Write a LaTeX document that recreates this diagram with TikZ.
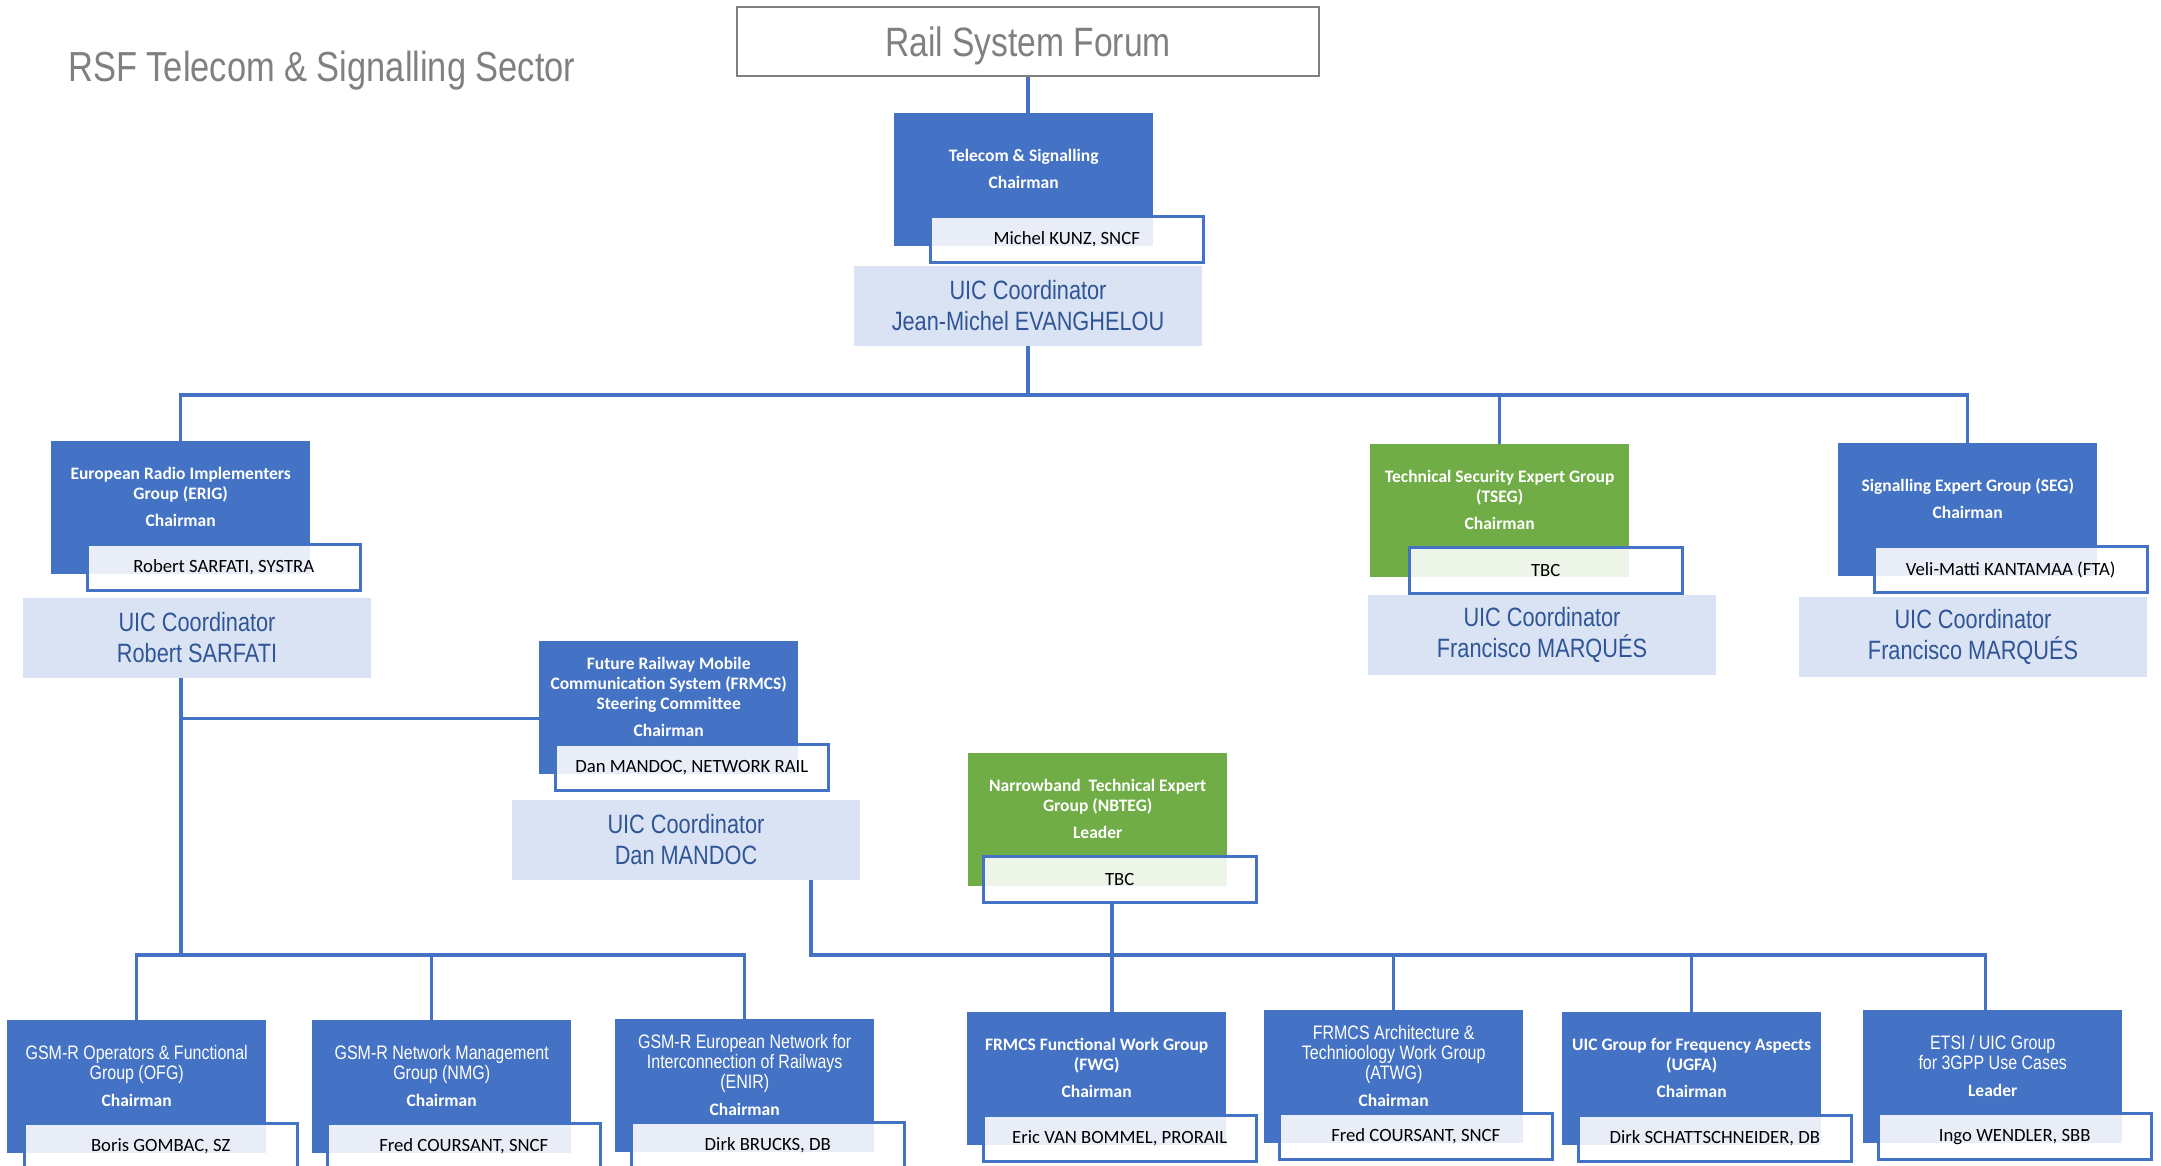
\documentclass[tikz,border=0pt]{standalone}
\usepackage{fontspec}
\setmainfont{Carlito}
\newfontfamily\narrow[FakeStretch=0.82]{Liberation Sans}
\definecolor{tsblue}{HTML}{4472C4}
\definecolor{tsgreen}{HTML}{70AD47}
\definecolor{uicfill}{HTML}{DAE3F3}
\definecolor{uictext}{HTML}{2F5597}
\definecolor{rsfgray}{HTML}{808080}
\newcommand\nrw[1]{{\mdseries\narrow\fontsize{19.5}{20}\selectfont #1}}

\begin{document}
\begin{tikzpicture}[
    x=1pt, y=-1pt,
    grp/.style={fill=#1, minimum width=259, minimum height=133, inner sep=0pt, anchor=north west},
    head/.style={text=white, align=center, font=\bfseries\fontsize{17.5}{20}\selectfont},
    who/.style={
        draw=tsblue,
        line width=2.5pt,
        fill=white,
        fill opacity=0.88,
        text opacity=1,
        minimum width=273,
        minimum height=46,
        inner sep=0pt,
        anchor=north west,
        font=\fontsize{18.7}{20}\selectfont
    },
    uic/.style={fill=uicfill, text=uictext, align=center, minimum width=348, minimum height=80,
        inner sep=0pt, font=\narrow\fontsize{26.5}{31}\selectfont},
    link/.style={draw=tsblue, line width=3.5pt}
]
  \useasboundingbox (0,0) rectangle (2161,1166);
  \clip (0,0) rectangle (2161,1166);

  \node[anchor=base west, inner sep=0pt, text=rsfgray, font=\narrow\fontsize{42}{42}\selectfont]
    (sector) at (68,82) {RSF Telecom \& Signalling Sector};
  \node[draw=rsfgray, line width=2pt, minimum width=582, minimum height=69, inner sep=0pt, text depth=0pt,
    text=rsfgray, font=\narrow\fontsize{41}{41}\selectfont] (rsf) at (1028,41.5) {Rail System Forum};

  \foreach \Id/\X/\Y/\Col/\Dx/\Title/\Role/\Who in {
    ts/894/113/tsblue/35/{Telecom \& Signalling}/Chairman/{Michel KUNZ, SNCF},
    erig/51/441/tsblue/35/{European Radio Implementers\\Group (ERIG)}/Chairman/{Robert SARFATI, SYSTRA},
    tseg/1370/444/tsgreen/38/{Technical Security Expert Group\\(TSEG)}/Chairman/TBC,
    seg/1838/443/tsblue/35/{Signalling Expert Group (SEG)}/Chairman/{Veli-Matti KANTAMAA (FTA)},
    frmcs/539/641/tsblue/15/{Future Railway Mobile\\Communication System (FRMCS)\\Steering Committee}/Chairman/{Dan MANDOC, NETWORK RAIL},
    nbteg/968/753/tsgreen/14/{Narrowband~ Technical Expert\\Group (NBTEG)}/Leader/TBC,
    ofg/7/1020/tsblue/16/{\nrw{GSM-R Operators \& Functional}\\\nrw{Group (OFG)}}/Chairman/{Boris GOMBAC, SZ},
    nmg/312/1020/tsblue/14/{\nrw{GSM-R Network Management}\\\nrw{Group (NMG)}}/Chairman/{Fred COURSANT, SNCF},
    enir/615/1019/tsblue/15/{\nrw{GSM-R European Network for}\\\nrw{Interconnection of Railways}\\\nrw{(ENIR)}}/Chairman/{Dirk BRUCKS, DB},
    fwg/967/1012/tsblue/15/{FRMCS Functional Work Group\\(FWG)}/Chairman/{Eric VAN BOMMEL, PRORAIL},
    atwg/1264/1010/tsblue/14/{\nrw{FRMCS Architecture \&}\\\nrw{Technioology Work Group}\\\nrw{(ATWG)}}/Chairman/{Fred COURSANT, SNCF},
    ugfa/1562/1012/tsblue/15/{UIC Group for Frequency Aspects\\(UGFA)}/Chairman/{Dirk SCHATTSCHNEIDER, DB},
    etsi/1863/1010/tsblue/14/{\nrw{ETSI / UIC Group}\\\nrw{for 3GPP Use Cases}}/Leader/{Ingo WENDLER, SBB}%
  } {
    \node[grp=\Col] (\Id) at (\X,\Y) {};
    \node[head] (\Id-t) at ([yshift=-56pt]\Id.north) {\Title\\[7pt]\Role};
    \node[who] (\Id-w) at ([xshift=\Dx pt,yshift=31pt]\Id.south west) {\Who};
  }

  \foreach \Id/\X/\Y/\Who in {
    ts/1028/306/{Jean-Michel EVANGHELOU},
    erig/197/638/{Robert SARFATI},
    tseg/1542/634.5/{Francisco MARQUÉS},
    seg/1973/636.5/{Francisco MARQUÉS},
    frmcs/686/839.5/{Dan MANDOC}%
  } {
    \node[uic] (\Id-u) at (\X,\Y) {UIC Coordinator\\\Who};
  }

  \coordinate (bus) at (1028,395);
  \coordinate (lbus) at (181,955);
  \coordinate (rbus) at (811,955);

  \draw[link] (rsf.south) -- (rsf.south |- ts.north);
  \draw[link] (ts-u.south) -- (bus);
  \foreach \Id in {erig,tseg,seg}
    \draw[link] (bus) -| (\Id.north);
  \draw[link] (erig-u.south -| lbus) -- (lbus);
  \draw[link] ([yshift=-11pt]frmcs.west) -| (erig-u.south -| lbus);
  \foreach \Id in {ofg,enir}
    \draw[link] (lbus) -| (\Id.north);
  \draw[link] (lbus) -| ([xshift=-10pt]nmg.north);
  \draw[link] (frmcs-u.south -| rbus) -- (rbus) -| ([xshift=-7pt]etsi.north);
  \foreach \Id in {atwg,ugfa}
    \draw[link] (rbus) -| (\Id.north);
  \draw[link] ([xshift=-8pt]nbteg-w.south) -- ([xshift=-8pt]nbteg-w.south |- fwg.north);
\end{tikzpicture}
\end{document}
